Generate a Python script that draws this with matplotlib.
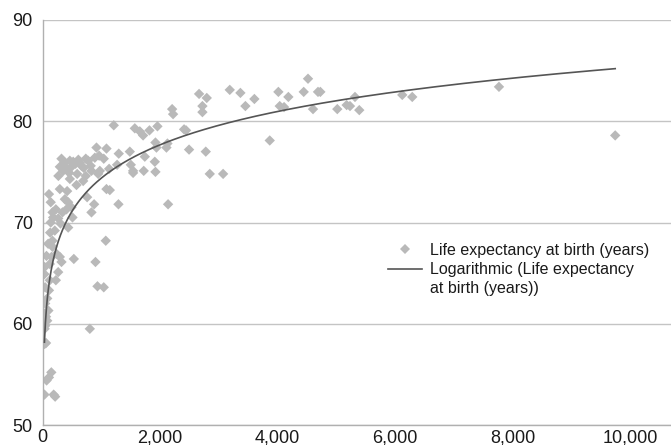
import numpy as np
import matplotlib.pyplot as plt
from matplotlib.lines import Line2D
from matplotlib.ticker import FuncFormatter

# Values
spend = [4516, 3185, 3366, 2663, 4012, 4443, 4686, 4726, 2794, 3604, 4182, 3451,
         2720, 4035, 4109, 2205, 2221, 2720, 4601, 1212, 1955, 1819, 2408, 2442,
         1570, 1655, 1711, 3865, 1921, 1938, 2108, 2125, 2493, 2777, 1485, 1088,
         1297, 1740, 1910, 1921, 1722, 1541, 1541, 1502, 1269, 1133, 1042, 963,
         918, 2845, 3072, 2136, 1292, 1088, 1145, 1076, 901, 935, 1042, 805, 533,
         323, 465, 522, 635, 736, 777, 890, 663, 352, 408, 493, 295, 833, 975,
         947, 692, 736, 465, 578, 295, 419, 759, 878, 833, 380, 437, 493, 408,
         340, 227, 170, 110, 140, 181, 267, 306, 437, 510, 140, 130, 209, 170, 96,
         170, 239, 295, 323, 153, 68, 36, 33, 124, 267, 227, 124, 45, 110, 80,
         45, 100, 39, 60, 33, 45, 80, 36, 60, 36, 150, 110, 70, 33, 190, 215,
         5014, 5173, 5230, 5315, 5388, 6119, 6289, 7764, 9741,
         560, 610, 700, 380, 455, 820, 590, 270]
life_exp = [84.2, 83.1, 82.8, 82.7, 82.9, 82.9, 82.9, 82.9, 82.3, 82.2, 82.4, 81.5,
            81.5, 81.5, 81.4, 81.2, 80.7, 80.9, 81.2, 79.6, 79.5, 79.1, 79.2, 79.1,
            79.3, 79.0, 78.6, 78.1, 77.9, 77.4, 77.4, 77.8, 77.2, 77.0, 77.0, 77.3,
            76.8, 76.5, 76.0, 75.0, 75.1, 74.9, 75.1, 75.7, 75.7, 75.3, 76.3, 76.6,
            77.4, 74.8, 74.8, 71.8, 71.8, 73.3, 73.2, 68.2, 66.1, 63.7, 63.6, 59.5, 66.4,
            76.3, 76.1, 76.0, 75.9, 76.3, 76.1, 76.4, 75.6, 75.1, 75.3, 75.5, 75.5, 75.1, 75.1,
            74.8, 74.1, 74.6, 74.3, 73.7, 73.3, 73.1, 72.5, 71.8, 71.0, 72.3, 72.0, 71.5, 71.3,
            71.0, 71.3, 71.0, 72.8, 72.0, 70.5, 70.4, 69.9, 69.5, 70.5, 70.0, 69.0, 69.2, 68.2, 67.9,
            67.6, 66.9, 66.6, 66.1, 66.6, 66.7, 65.6, 64.9, 65.9, 65.1, 64.3, 64.3, 63.6, 63.3, 62.5,
            62.0, 61.3, 61.0, 60.7, 60.3, 59.8, 60.3, 59.5, 58.1, 58.0, 55.2, 54.7, 54.4, 53.0, 53.0, 52.8,
            81.2, 81.6, 81.5, 82.4, 81.1, 82.6, 82.4, 83.4, 78.6,
            75.8, 76.2, 75.4, 75.9, 74.9, 75.6, 74.8, 74.6]

# logarithmic trendline y = slope * ln(x) + intercept
trend_slope = 4.75
trend_intercept = 41.57

x = np.array(spend, dtype=float)
y = np.array(life_exp)

xs = np.linspace(x.min(), x.max(), 600)
ys = trend_slope * np.log(xs) + trend_intercept

plt.rcParams['font.family'] = ['Liberation Sans', 'DejaVu Sans']

fig = plt.figure(figsize=(6.71, 4.45), dpi=100)
ax = fig.add_axes([42.5 / 671, 20 / 445, 1 - 42.5 / 671, 405 / 445])

ax.set_axisbelow(True)
ax.grid(axis='y', color='#c4c4c4', linewidth=1.0)
ax.scatter(x, y, marker='D', s=28, color='#b9b9b9', edgecolors='none', zorder=2)
ax.plot(xs, ys, color='#555555', linewidth=1.2, zorder=3)

ax.set_xlim(0, 10690)
ax.set_ylim(50, 90)
ax.set_xticks(range(0, 10001, 2000))
ax.set_yticks(range(50, 91, 10))
ax.xaxis.set_major_formatter(FuncFormatter(lambda v, p: f"{int(v):,}"))
ax.tick_params(length=0, labelsize=13, colors='#1a1a1a')
ax.tick_params(axis='y', pad=7)
ax.tick_params(axis='x', pad=3)

for s in ['top', 'right']:
    ax.spines[s].set_visible(False)
for s in ['left', 'bottom']:
    ax.spines[s].set_color('#b0b0b0')
    ax.spines[s].set_linewidth(1.0)

handles = [
    Line2D([], [], marker='D', linestyle='none', markersize=5.5,
           color='#b9b9b9', markeredgewidth=0),
    Line2D([], [], color='#555555', linewidth=1.2),
    Line2D([], [], linestyle='none'),
]
labels = ['Life expectancy at birth (years)',
          'Logarithmic (Life expectancy',
          'at birth (years))']
leg = ax.legend(handles, labels, loc='upper left', frameon=False,
                bbox_to_anchor=(388 / 671, 1 - 243 / 445), bbox_transform=fig.transFigure,
                fontsize=11.5, handlelength=2.1, handletextpad=0.5,
                labelspacing=0.26, borderpad=0, borderaxespad=0)
for t in leg.get_texts():
    t.set_color('#1a1a1a')

fig.savefig('out.png', dpi=100)
